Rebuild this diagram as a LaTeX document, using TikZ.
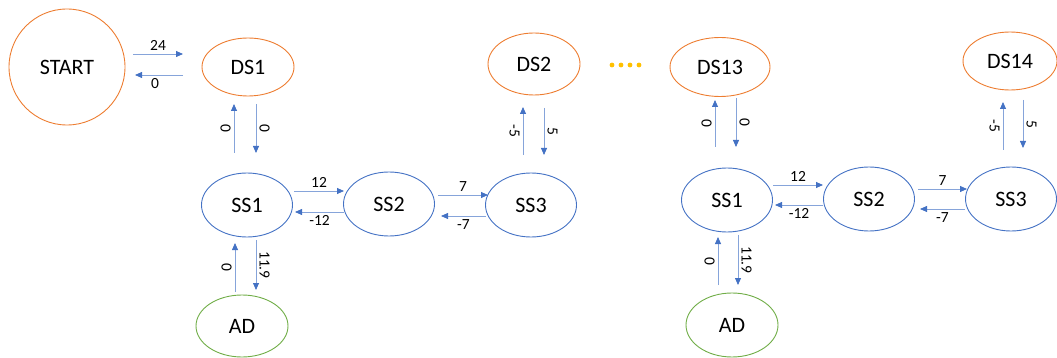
\documentclass[tikz,border=0pt]{standalone}
\usepackage{fontspec}
\setmainfont{Carlito}
\usetikzlibrary{shapes.geometric,arrows.meta,calc}
\definecolor{dsorange}{HTML}{ED7D31}
\definecolor{ssblue}{HTML}{4472C4}
\definecolor{adgreen}{HTML}{70AD47}
\definecolor{linkblue}{HTML}{86A4DA}
\definecolor{dotgold}{HTML}{FFC000}
\begin{document}
\begin{tikzpicture}[x=1pt,y=-1pt,
  state/.style={ellipse,draw,line width=0.9pt,inner sep=0pt,
    font=\fontsize{22}{24}\selectfont,text=black},
  dsnode/.style={state,draw=dsorange},
  ssnode/.style={state,draw=ssblue,minimum width=91pt,minimum height=64pt},
  adnode/.style={state,draw=adgreen,minimum width=92pt,minimum height=62pt},
  arr/.style={draw=linkblue,line width=0.8pt,
    -{Triangle[length=7pt,width=6pt,color=ssblue]}},
  lbl/.style={font=\fontsize{15.5}{17}\selectfont,text=black,inner sep=3pt},
  lft/.style={lbl,midway,anchor=north,rotate=-90},
  rgt/.style={lbl,midway,anchor=south,rotate=-90}]
\useasboundingbox (0,0) rectangle (1057,358);

% state nodes, left group
\node[dsnode,circle,minimum size=116pt] (start) at (67,67) {START};
\node[dsnode,minimum width=92pt,minimum height=58pt] (ds1) at (248,67) {DS1};
\node[dsnode,minimum width=92pt,minimum height=62pt] (ds2) at (534,64) {DS2};
\node[ssnode] (ss1) at (247,205) {SS1};
\node[ssnode] (ss2) at (389,204) {SS2};
\node[ssnode] (ss3) at (531,205) {SS3};
\node[adnode] (ad) at (242,326) {AD};

% state nodes, right group
\node[dsnode,minimum width=100pt,minimum height=59pt] (ds13) at (720,67) {DS13};
\node[dsnode,minimum width=94pt,minimum height=58pt] (ds14) at (1010,61) {DS14};
\node[ssnode] (ssr1) at (727,200) {SS1};
\node[ssnode] (ssr2) at (869,199) {SS2};
\node[ssnode] (ssr3) at (1011,199) {SS3};
\node[adnode,minimum height=64pt] (adr) at (732,325) {AD};

% ellipsis between the groups
\foreach \dx in {0,9,18,27}
  \fill[dotgold] (612+\dx,65) circle (2.4pt);

% transitions, left group
\draw[arr] ($(start)+(66,-13)$) -- node[lbl,above] {24} ($(ds1)+(-65,-13)$);
\draw[arr] ($(ds1)+(-65,8)$) -- node[lbl,below,xshift=-4pt] {0} ($(start)+(68,8)$);
\draw[arr] ($(ss1)+(-13,-52)$) -- node[lft] {0} ($(ds1)+(-14,37)$);
\draw[arr] ($(ds1)+(8,37)$) -- node[rgt] {0} ($(ss1)+(9,-52)$);
\draw[arr] ($(ss1)+(47,-14)$) -- node[lbl,above] {12} ($(ss2)+(-45,-13)$);
\draw[arr] ($(ss2)+(-45,8)$) -- node[lbl,below] {-12} ($(ss1)+(48,7)$);
\draw[arr] ($(ss2)+(49,-9)$) -- node[lbl,above] {7} ($(ss3)+(-43,-10)$);
\draw[arr] ($(ss3)+(-45,11)$) -- node[lbl,below] {-7} ($(ss2)+(52,12)$);
\draw[arr] ($(ss3)+(-8,-50)$) -- node[lft] {-5} ($(ds2)+(-11,43)$);
\draw[arr] ($(ds2)+(10,44)$) -- node[rgt] {5} ($(ss3)+(13,-50)$);
\draw[arr] ($(ad)+(-7,-34)$) -- node[lft] {0} ($(ss1)+(-12,38)$);
\draw[arr] ($(ss1)+(9,35)$) -- node[rgt] {11.9} ($(ad)+(14,-36)$);

% transitions, right group
\draw[arr] ($(ssr1)+(-12,-53)$) -- node[lft] {0} ($(ds13)+(-5,33)$);
\draw[arr] ($(ds13)+(16,31)$) -- node[rgt] {0} ($(ssr1)+(9,-53)$);
\draw[arr] ($(ssr1)+(46,-15)$) -- node[lbl,above] {12} ($(ssr2)+(-46,-14)$);
\draw[arr] ($(ssr2)+(-46,6)$) -- node[lbl,below] {-12} ($(ssr1)+(48,5)$);
\draw[arr] ($(ssr2)+(49,-10)$) -- node[lbl,above] {7} ($(ssr3)+(-44,-10)$);
\draw[arr] ($(ssr3)+(-46,10)$) -- node[lbl,below] {-7} ($(ssr2)+(51,10)$);
\draw[arr] ($(ssr3)+(-8,-49)$) -- node[lft] {-5} ($(ds14)+(-7,41)$);
\draw[arr] ($(ds14)+(13,39)$) -- node[rgt] {5} ($(ssr3)+(12,-51)$);
\draw[arr] ($(adr)+(-14,-40)$) -- node[lft] {0} ($(ssr1)+(-9,37)$);
\draw[arr] ($(ssr1)+(11,35)$) -- node[rgt] {11.9} ($(adr)+(6,-40)$);
\end{tikzpicture}
\end{document}
